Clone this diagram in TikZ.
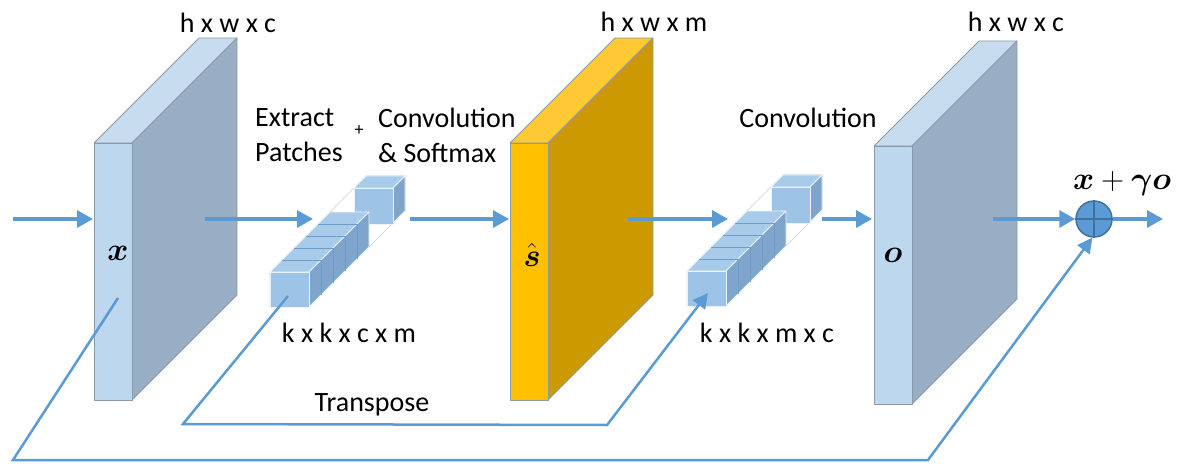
\RequirePackage{fix-cm}
\documentclass[tikz,border=0pt]{standalone}
\usepackage{amsmath}
\usepackage{fontspec}
\setmainfont{Carlito}
\usetikzlibrary{arrows.meta}

\definecolor{flowblue}{HTML}{5B9BD5}
\definecolor{sumedge}{HTML}{41719C}
\definecolor{edgegray}{HTML}{8C9AA8}
\definecolor{mapfront}{HTML}{BDD7EE}
\definecolor{maptop}{HTML}{C7DCEF}
\definecolor{mapside}{HTML}{97AEC4}
\definecolor{attfront}{HTML}{FFC000}
\definecolor{atttop}{HTML}{FFC935}
\definecolor{attside}{HTML}{CC9A00}
\definecolor{kfront}{HTML}{9DC3E6}
\definecolor{ktop}{HTML}{A9CBEA}
\definecolor{kside}{HTML}{7FA5CC}
\definecolor{kline}{HTML}{6E9CCB}
\definecolor{ghost}{HTML}{D6DCE4}

\tikzset{
  flow/.style={draw=flowblue, line width=3.2pt, -{Triangle[length=16pt,width=17pt]}},
  loop/.style={draw=flowblue, line width=2.5pt, -{Triangle[length=15pt,width=15pt]}},
  face/.style={draw=edgegray, line width=0.8pt, line join=round},
  kface/.style={draw=white!80!kfront, line width=0.8pt, line join=round},
  lbl/.style={font=\fontsize{28}{35}\selectfont, inner sep=0pt},
  sym/.style={font=\fontsize{32}{36}\selectfont, inner sep=0pt},
}

% feature map slab: x0, y0 (top), y1 (bottom), front, top, side
\newcommand{\featmap}[6]{%
  \filldraw[face, fill=#5] (#1,#2) -- ++(105,-105) -- ++(38,0) -- ++(-105,105) -- cycle;
  \filldraw[face, fill=#6] (#1+38,#2) -- ++(105,-105) -- (#1+143,#3-105) -- (#1+38,#3) -- cycle;
  \filldraw[face, fill=#4] (#1,#2) rectangle (#1+38,#3);
}

% kernel bar: x0, y0 (top-left of front face)
\newcommand{\kernelbar}[2]{%
  % outline of the whole bar
  \draw[ghost, line width=1pt] (#1,#2) -- ++(96,-96) -- ++(39,0) -- ++(0,35) -- ++(-96,96) -- ++(-39,0) -- cycle;
  % last slice at the back
  \filldraw[kface, fill=ktop] (#1+84,#2-84) -- ++(12,-12) -- ++(39,0) -- ++(-12,12) -- cycle;
  \filldraw[kface, fill=kside] (#1+123,#2-84) -- ++(12,-12) -- ++(0,35) -- ++(-12,12) -- cycle;
  \filldraw[kface, fill=kfront] (#1+84,#2-84) rectangle ++(39,36);
  % front slices
  \filldraw[kface, fill=ktop] (#1,#2) -- ++(60,-60) -- ++(39,0) -- ++(-60,60) -- cycle;
  \filldraw[kface, fill=kside] (#1+39,#2) -- ++(60,-60) -- ++(0,35) -- ++(-60,60) -- cycle;
  \foreach \d in {12,24,36,48} {
    \draw[kline, line width=0.8pt] (#1+\d,#2-\d) -- ++(39,0) -- ++(0,35);
  }
  \filldraw[kface, fill=kfront] (#1,#2) rectangle ++(39,35);
}

\begin{document}
\begin{tikzpicture}[x=1pt, y=-1pt]
  \useasboundingbox (0,0) rectangle (1182,473);

  % three feature maps
  \featmap{94}{143}{400}{mapfront}{maptop}{mapside}
  \featmap{510}{143}{400}{attfront}{atttop}{attside}
  \featmap{874}{146}{404}{mapfront}{maptop}{mapside}

  % the two kernels
  \kernelbar{270}{272}
  \kernelbar{687}{271}

  % symbols on the maps
  \node[sym] (xmap) at (118,253) {$\boldsymbol{x}$};
  \node[sym] (smap) at (532,255) {$\hat{\boldsymbol{s}}$};
  \node[sym] (omap) at (893,255) {$\boldsymbol{o}$};

  % sizes
  \node[lbl] (dimx) at (228,23) {h x w x c};
  \node[lbl] (dims) at (654,22) {h x w x m};
  \node[lbl] (dimo) at (1016,22) {h x w x c};
  \node[lbl] (dimk1) at (349,333) {k x k x c x m};
  \node[lbl] (dimk2) at (767,333) {k x k x m x c};

  % operations
  \node[lbl, anchor=west, align=left] (extract) at (255,135) {Extract\\Patches};
  \node[font=\fontsize{18}{20}\selectfont, inner sep=0pt] (plus) at (359,131) {+};
  \node[lbl, anchor=west, align=left] (convsm) at (378,135) {Convolution\\\& Softmax};
  \node[lbl] (conv) at (808,118) {Convolution};
  \node[lbl] (transp) at (372,405) {Transpose};

  % sum
  \node[circle, minimum size=36pt, inner sep=0pt, fill=flowblue, draw=sumedge, line width=1.5pt] (sum) at (1094,219) {};
  \draw[sumedge, line width=1.5pt] (sum.north) -- (sum.south) (sum.west) -- (sum.east);
  \node[sym] (res) at (1122,184) {$\boldsymbol{x}+\boldsymbol{\gamma}\boldsymbol{o}$};

  % main flow
  \coordinate (in) at (13,219);
  \coordinate (xin) at (93,219);
  \coordinate (xout) at (205,219);
  \coordinate (k1in) at (313,219);
  \coordinate (k1out) at (410,219);
  \coordinate (sin) at (509,219);
  \coordinate (sout) at (628,219);
  \coordinate (k2in) at (728,219);
  \coordinate (k2out) at (822,219);
  \coordinate (oin) at (872,219);
  \coordinate (oout) at (993,219);
  \coordinate (out) at (1163,219);
  \draw[flow] (in) -- (xin);
  \draw[flow] (xout) -- (k1in);
  \draw[flow] (k1out) -- (sin);
  \draw[flow] (sout) -- (k2in);
  \draw[flow] (k2out) -- (oin);
  \draw[flow] (oout) -- (sum.west);
  \draw[flow] (sum.east) -- (out);

  % transpose path
  \coordinate (k1tap) at (288,296);
  \coordinate (k2front) at (708,293);
  \draw[loop] (k1tap) -- (183,424) -- (607,425) -- (k2front);

  % residual path
  \coordinate (xtap) at (118,298);
  \draw[loop] (xtap) -- (13,460) -- (928,460) -- (sum.-95);
\end{tikzpicture}
\end{document}
